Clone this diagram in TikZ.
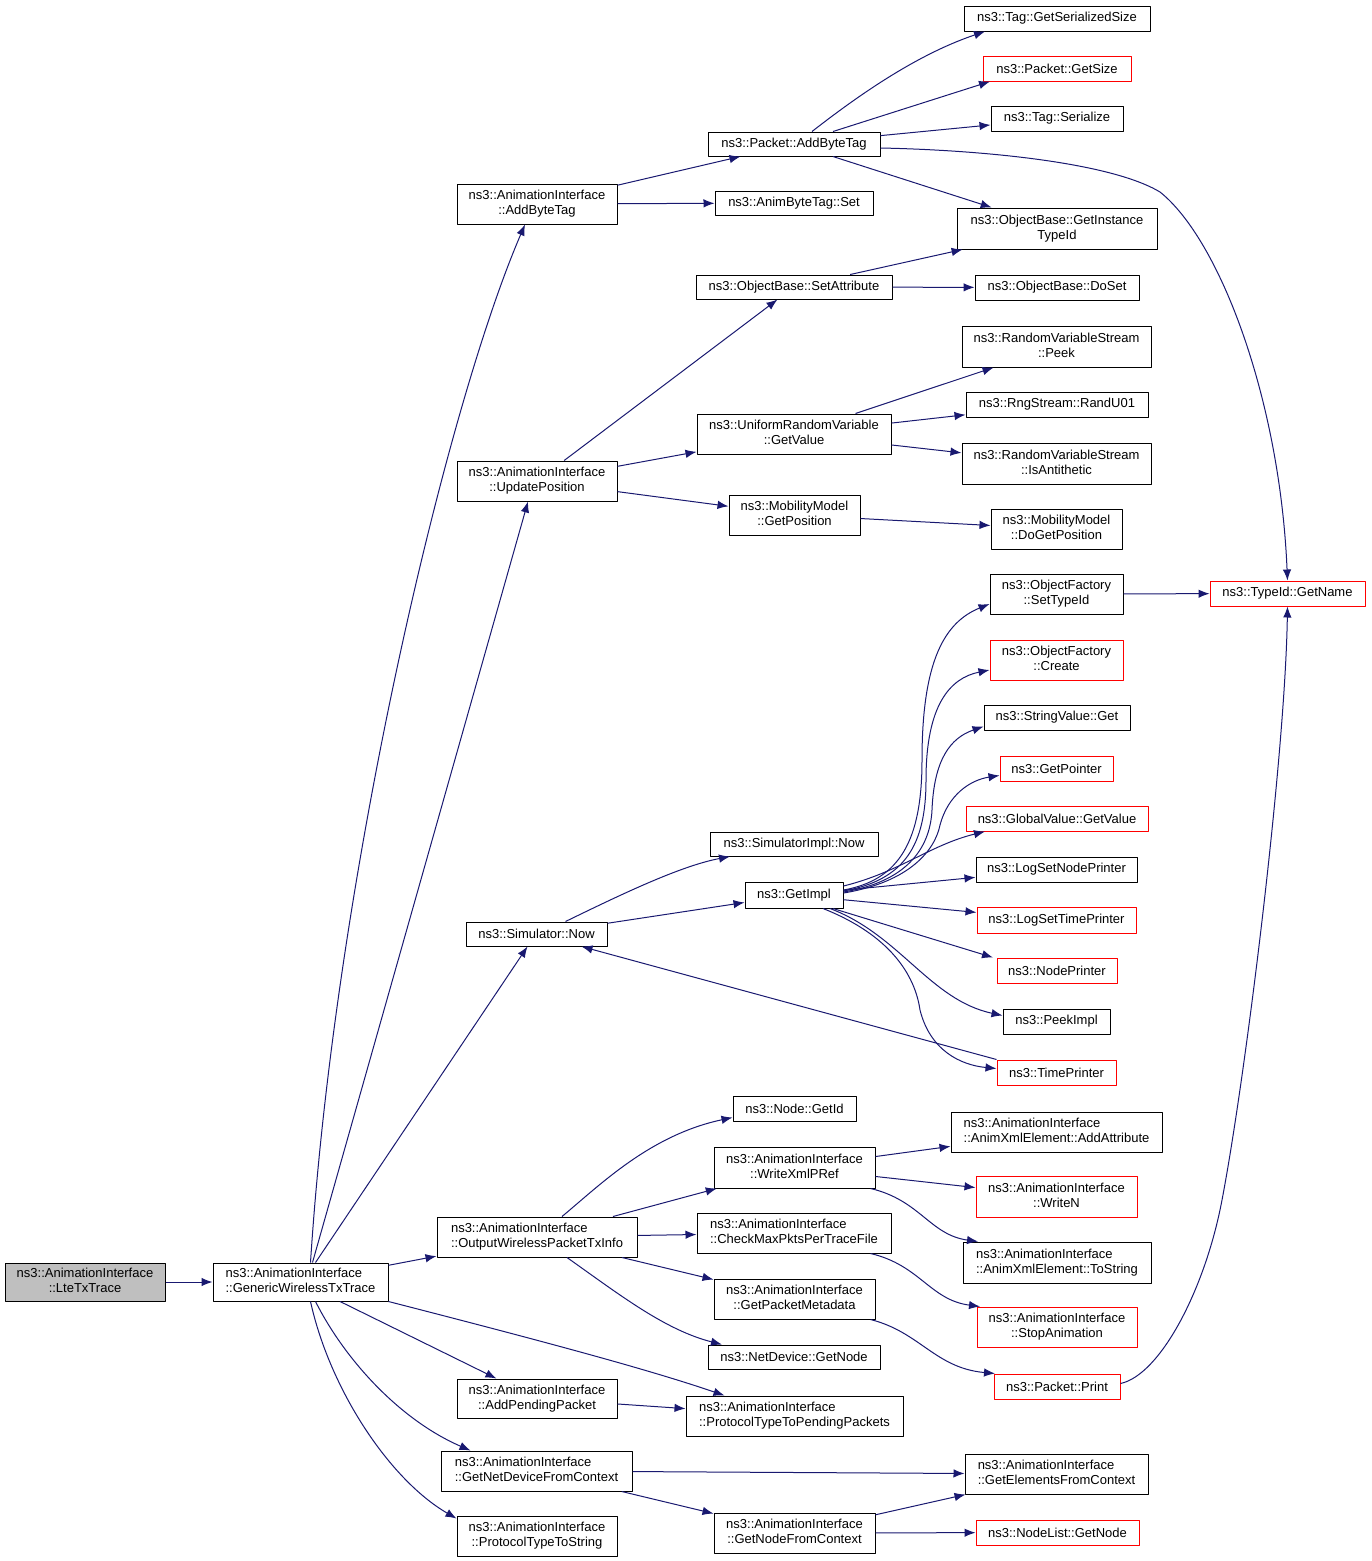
\documentclass[tikz,border=0pt]{standalone}
\usepackage{fontspec}
\setmainfont{Liberation Sans}
\usetikzlibrary{arrows.meta}

\definecolor{edgeblue}{HTML}{191970}
\definecolor{rootgray}{HTML}{BFBFBF}

\newcommand{\fnl}[2]{\begin{tabular}{@{}l@{}}#1\\\multicolumn{1}{@{}c@{}}{#2}\end{tabular}}
\newcommand{\ainame}[1]{\fnl{ns3::AnimationInterface}{::#1}}

\begin{document}
\begin{tikzpicture}[x = 1pt, y = -1pt, line join = round,
  fn/.style = {draw, line width = 1pt, inner sep = 0pt, fill = white,
    font = \fontsize{13}{15}\selectfont},
  ext/.style = {fn, draw = red},
  call/.style = {draw = edgeblue, line width = 1pt,
    -{Latex[length = 11pt, width = 8.5pt]}}]
  \useasboundingbox (0, 0) rectangle (1371, 1561);

  % callers
  \node[fn, fill = rootgray, minimum width = 160pt, minimum height = 38pt] (lte)
  at (85, 1282) {\ainame{LteTxTrace}};
  \node[fn, minimum width = 175pt, minimum height = 38pt] (gwt) at (300.5, 1282)
  {\ainame{GenericWirelessTxTrace}};

  % second column
  \node[fn, minimum width = 160pt, minimum height = 40pt] (aibt) at (537, 204)
  {\ainame{AddByteTag}};
  \node[fn, minimum width = 160pt, minimum height = 40pt] (updpos) at (537, 481)
  {\ainame{UpdatePosition}};
  \node[fn, minimum width = 141pt, minimum height = 24pt] (simnow) at (536.5, 934)
  {ns3::Simulator::Now};
  \node[fn, minimum width = 200pt, minimum height = 40pt] (owpti) at (537, 1237)
  {\ainame{OutputWirelessPacketTxInfo}};
  \node[fn, minimum width = 160pt, minimum height = 39pt] (addpend)
  at (537, 1398.5) {\ainame{AddPendingPacket}};
  \node[fn, minimum width = 191pt, minimum height = 40pt] (getnetdev)
  at (536.5, 1471) {\ainame{GetNetDeviceFromContext}};
  \node[fn, minimum width = 160pt, minimum height = 40pt] (pttstr) at (537, 1536)
  {\ainame{ProtocolTypeToString}};

  % third column
  \node[fn, minimum width = 172pt, minimum height = 24pt] (pabt) at (794, 144)
  {ns3::Packet::AddByteTag};
  \node[fn, minimum width = 158pt, minimum height = 24pt] (abtset) at (794, 203)
  {ns3::AnimByteTag::Set};
  \node[fn, minimum width = 196pt, minimum height = 24pt] (setattr) at (794, 287)
  {ns3::ObjectBase::SetAttribute};
  \node[fn, minimum width = 194pt, minimum height = 40pt] (urvget) at (794, 434)
  {\fnl{ns3::UniformRandomVariable}{::GetValue}};
  \node[fn, minimum width = 131pt, minimum height = 40pt] (mobget)
  at (794.5, 515) {\fnl{ns3::MobilityModel}{::GetPosition}};
  \node[fn, minimum width = 168pt, minimum height = 24pt] (simimplnow)
  at (794, 844) {ns3::SimulatorImpl::Now};
  \node[fn, minimum width = 98pt, minimum height = 26pt] (getimpl) at (794, 895)
  {ns3::GetImpl};
  \node[fn, minimum width = 123pt, minimum height = 25pt] (nodegetid)
  at (794.5, 1108.5) {ns3::Node::GetId};
  \node[fn, minimum width = 161pt, minimum height = 41pt] (writexml)
  at (794.5, 1167.5) {\ainame{WriteXmlPRef}};
  \node[fn, minimum width = 194pt, minimum height = 40pt] (checkmax)
  at (794, 1233) {\ainame{CheckMaxPktsPerTraceFile}};
  \node[fn, minimum width = 161pt, minimum height = 40pt] (getpktmeta)
  at (794.5, 1299) {\ainame{GetPacketMetadata}};
  \node[fn, minimum width = 172pt, minimum height = 24pt] (netdevgetnode)
  at (794, 1357) {ns3::NetDevice::GetNode};
  \node[fn, minimum width = 217pt, minimum height = 40pt] (pttpp)
  at (794.5, 1416) {\ainame{ProtocolTypeToPendingPackets}};
  \node[fn, minimum width = 161pt, minimum height = 40pt] (getnodectx)
  at (794.5, 1533) {\ainame{GetNodeFromContext}};

  % fourth column
  \node[fn, minimum width = 186pt, minimum height = 25pt] (tgss) at (1057, 18.5)
  {ns3::Tag::GetSerializedSize};
  \node[ext, minimum width = 148pt, minimum height = 25pt] (getsize)
  at (1057, 68.5) {ns3::Packet::GetSize};
  \node[fn, minimum width = 132pt, minimum height = 25pt] (tagser)
  at (1057, 118.5) {ns3::Tag::Serialize};
  \node[fn, minimum width = 200pt, minimum height = 41pt] (gitid)
  at (1057, 228.5) {\fnl{ns3::ObjectBase::GetInstance}{TypeId}};
  \node[fn, minimum width = 164pt, minimum height = 25pt] (doset)
  at (1057, 287.5) {ns3::ObjectBase::DoSet};
  \node[fn, minimum width = 189pt, minimum height = 41pt] (rvspeek)
  at (1056.5, 346.5) {\fnl{ns3::RandomVariableStream}{::Peek}};
  \node[fn, minimum width = 182pt, minimum height = 25pt] (randu01)
  at (1057, 404.5) {ns3::RngStream::RandU01};
  \node[fn, minimum width = 189pt, minimum height = 41pt] (isanti)
  at (1056.5, 463.5) {\fnl{ns3::RandomVariableStream}{::IsAntithetic}};
  \node[fn, minimum width = 131pt, minimum height = 40pt] (dogetpos)
  at (1056.5, 529) {\fnl{ns3::MobilityModel}{::DoGetPosition}};
  \node[fn, minimum width = 133pt, minimum height = 40pt] (settypeid)
  at (1056.5, 594) {\fnl{ns3::ObjectFactory}{::SetTypeId}};
  \node[ext, minimum width = 133pt, minimum height = 40pt] (create)
  at (1056.5, 660) {\fnl{ns3::ObjectFactory}{::Create}};
  \node[fn, minimum width = 146pt, minimum height = 25pt] (strget)
  at (1057, 717.5) {ns3::StringValue::Get};
  \node[ext, minimum width = 113pt, minimum height = 25pt] (getptr)
  at (1056.5, 768.5) {ns3::GetPointer};
  \node[ext, minimum width = 182pt, minimum height = 25pt] (globval)
  at (1057, 818.5) {ns3::GlobalValue::GetValue};
  \node[fn, minimum width = 161pt, minimum height = 25pt] (logsetnode)
  at (1056.5, 869.5) {ns3::LogSetNodePrinter};
  \node[ext, minimum width = 159pt, minimum height = 26pt] (logsettime)
  at (1056.5, 920) {ns3::LogSetTimePrinter};
  \node[ext, minimum width = 120pt, minimum height = 25pt] (nodeprinter)
  at (1057, 970.5) {ns3::NodePrinter};
  \node[fn, minimum width = 107pt, minimum height = 25pt] (peekimpl)
  at (1056.5, 1021.5) {ns3::PeekImpl};
  \node[ext, minimum width = 119pt, minimum height = 25pt] (timeprinter)
  at (1056.5, 1072.5) {ns3::TimePrinter};
  \node[fn, minimum width = 211pt, minimum height = 40pt] (addattr)
  at (1056.5, 1132) {\ainame{AnimXmlElement::AddAttribute}};
  \node[ext, minimum width = 161pt, minimum height = 41pt] (writen)
  at (1056.5, 1196.5) {\ainame{WriteN}};
  \node[fn, minimum width = 188pt, minimum height = 41pt] (animtostr)
  at (1057, 1262.5) {\ainame{AnimXmlElement::ToString}};
  \node[ext, minimum width = 160pt, minimum height = 40pt] (stopanim)
  at (1057, 1327) {\ainame{StopAnimation}};
  \node[ext, minimum width = 126pt, minimum height = 25pt] (pktprint)
  at (1057, 1386.5) {ns3::Packet::Print};
  \node[fn, minimum width = 183pt, minimum height = 40pt] (getelem)
  at (1056.5, 1474) {\ainame{GetElementsFromContext}};
  \node[ext, minimum width = 163pt, minimum height = 25pt] (nlgetnode)
  at (1057.5, 1532.5) {ns3::NodeList::GetNode};
  \node[ext, minimum width = 155pt, minimum height = 25pt] (getname)
  at (1287.5, 593.5) {ns3::TypeId::GetName};

  % GenericWirelessTxTrace
  \draw[call] (lte) -- (gwt);
  \draw[call] ([xshift = 10pt]gwt.north) .. controls (335, 880) and (445, 410)
  .. ([xshift = -12pt]aibt.south);
  \draw[call] ([xshift = 12pt]gwt.north) -- ([xshift = -9pt]updpos.south);
  \draw[call] ([xshift = 15pt]gwt.north) -- ([xshift = -9pt]simnow.south);
  \draw[call] (gwt) -- (owpti);
  \draw[call] (gwt) -- (addpend);
  \draw[call] (gwt.south east) .. controls (550, 1343) and (650, 1370)
  .. ([xshift = -70pt]pttpp.north);
  \draw[call] ([xshift = 15pt]gwt.south) .. controls (345, 1360) and (400, 1420)
  .. ([xshift = -66pt]getnetdev.north);
  \draw[call] ([xshift = 10pt]gwt.south) .. controls (330, 1390) and (390, 1480)
  .. ([yshift = -3pt]pttstr.north west);

  % AddByteTag and UpdatePosition
  \draw[call] (aibt) -- (pabt);
  \draw[call] (aibt) -- (abtset);
  \draw[call] (updpos) -- (setattr);
  \draw[call] (updpos) -- (urvget);
  \draw[call] (updpos) -- (mobget);

  \draw[call] ([xshift = 18pt]pabt.north) .. controls (855, 98) and (915, 55)
  .. ([xshift = -72pt]tgss.south);
  \draw[call] ([xshift = 39pt]pabt.north) -- ([xshift = -67pt]getsize.south);
  \draw[call] (pabt) -- (tagser);
  \draw[call] (pabt) -- (gitid);
  \draw[call] ([yshift = -4pt]pabt.east) .. controls (980, 150) and (1110, 162)
  .. (1160, 192) .. controls (1220, 240) and (1280, 400) .. (getname.north);
  \draw[call] (setattr) -- (gitid);
  \draw[call] (setattr) -- (doset);
  \draw[call] (urvget) -- (rvspeek);
  \draw[call] (urvget) -- (randu01);
  \draw[call] (urvget) -- (isanti);
  \draw[call] (mobget) -- (dogetpos);

  % Simulator::Now
  \draw[call] ([xshift = 29pt]simnow.north) .. controls (620, 895) and (680, 866)
  .. ([xshift = -64pt]simimplnow.south);
  \draw[call] (simnow) -- (getimpl);
  \draw[call] (timeprinter.north west) -- ([xshift = 45pt]simnow.south);

  \draw[call] ([yshift = 5pt]getimpl.east) .. controls (900, 880) and (922, 840)
  .. (922, 760) .. controls (922, 660) and (945, 622)
  .. ([yshift = -10pt]settypeid.west);
  \draw[call] ([yshift = 4pt]getimpl.east) .. controls (905, 880) and (926, 845)
  .. (926, 780) .. controls (926, 705) and (950, 678)
  .. ([yshift = -10pt]create.west);
  \draw[call] ([yshift = 3pt]getimpl.east) .. controls (905, 882) and (930, 850)
  .. (932, 810) .. controls (934, 760) and (950, 738)
  .. ([yshift = -9pt]strget.west);
  \draw[call] ([yshift = 2pt]getimpl.east) .. controls (910, 882) and (935, 850)
  .. (940, 825) .. controls (948, 795) and (970, 780)
  .. ([yshift = -7pt]getptr.west);
  \draw[call] ([yshift = 9pt]getimpl.east) .. controls (900, 872) and (930, 845)
  .. ([xshift = -72pt]globval.south);
  \draw[call] (getimpl) -- (logsetnode);
  \draw[call] (getimpl) -- (logsettime);
  \draw[call] ([xshift = 39pt]getimpl.south) -- ([xshift = -64pt]nodeprinter.north);
  \draw[call] ([xshift = 36pt]getimpl.south) .. controls (900, 935) and (930, 1000)
  .. ([yshift = 6pt]peekimpl.west);
  \draw[call] ([xshift = 29pt]getimpl.south) .. controls (890, 935) and (915, 975)
  .. (920, 1010) .. controls (930, 1050) and (960, 1065)
  .. ([yshift = 4pt]timeprinter.west);

  \draw[call] (settypeid) -- (getname);
  \draw[call] ([yshift = 3pt]pktprint.east) .. controls (1160, 1375) and (1205, 1290)
  .. (1222, 1200) .. controls (1245, 1080) and (1285, 760) .. (getname.south);

  % OutputWirelessPacketTxInfo
  \draw[call] ([xshift = 25pt]owpti.north) .. controls (600, 1185) and (650, 1135)
  .. ([yshift = -9pt]nodegetid.west);
  \draw[call] (owpti) -- (writexml);
  \draw[call] (owpti) -- (checkmax);
  \draw[call] (owpti) -- (getpktmeta);
  \draw[call] ([xshift = 30pt]owpti.south) .. controls (620, 1295) and (665, 1330)
  .. ([xshift = -72pt]netdevgetnode.north);

  \draw[call] (writexml) -- (addattr);
  \draw[call] (writexml) -- (writen);
  \draw[call] ([xshift = -5pt]writexml.south east) .. controls (920, 1200)
  and (930, 1235) .. ([xshift = -79pt]animtostr.north);
  \draw[call] ([xshift = -21pt]checkmax.south east) .. controls (920, 1265)
  and (930, 1300) .. ([xshift = -77pt]stopanim.north);
  \draw[call] ([xshift = -5pt]getpktmeta.south east) .. controls (920, 1332)
  and (935, 1368) .. ([xshift = -62pt]pktprint.north);

  % contexts
  \draw[call] (addpend) -- (pttpp);
  \draw[call] (getnetdev) -- (getelem);
  \draw[call] (getnetdev) -- (getnodectx);
  \draw[call] (getnodectx) -- (getelem);
  \draw[call] (getnodectx) -- (nlgetnode);
\end{tikzpicture}
\end{document}
